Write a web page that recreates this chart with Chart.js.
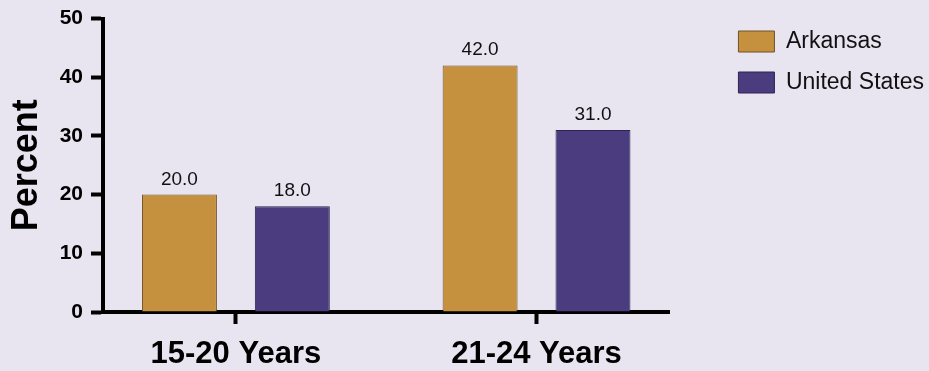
<!DOCTYPE html>
<html>
<head>
<meta charset="utf-8">
<script src="https://cdn.jsdelivr.net/npm/chart.js@4/dist/chart.umd.min.js"></script>
<style>
  html, body { margin: 0; padding: 0; background: #e8e5f1; }
  #wrap { width: 929px; height: 371px; }
</style>
</head>
<body>
<div id="wrap"><canvas id="chart" width="929" height="371"></canvas></div>
<script>
const categories = ['15-20 Years', '21-24 Years'];
const arkansas = [20.0, 42.0];
const unitedStates = [18.0, 31.0];
const yTicks = [0, 10, 20, 30, 40, 50];

const FONT = "'Liberation Sans', Arial, Helvetica, sans-serif";

renderChart();

function toPoints(values) {
    return values.map((v, i) => ({ x: i + 1, y: v }));
}

function renderChart() {
    // value labels above each bar
    const barValues = {
        id: 'barValues',
        afterDatasetsDraw(chart) {
            const ctx = chart.ctx;
            ctx.save();
            ctx.font = '19px ' + FONT;
            ctx.fillStyle = '#111';
            ctx.textAlign = 'center';
            ctx.textBaseline = 'alphabetic';
            chart.data.datasets.forEach((ds, di) => {
                chart.getDatasetMeta(di).data.forEach((bar, i) => {
                    ctx.fillText(ds.data[i].y.toFixed(1), bar.x, bar.y - 10);
                });
            });
            ctx.restore();
        }
    };

    const data = {
        datasets: [
            {
                label: 'Arkansas',
                data: toPoints(arkansas),
                backgroundColor: '#c6913f',
                borderColor: '#6e5028',
                borderWidth: 1,
            },
            {
                label: 'United States',
                data: toPoints(unitedStates),
                backgroundColor: '#4a3c7e',
                borderColor: '#2c2550',
                borderWidth: 1,
            }
        ]
    };

    const config = {
        type: 'bar',
        data: data,
        options: {
            responsive: false,
            animation: false,
            layout: { padding: { top: 12, right: -5, bottom: -14, left: 0 } },
            datasets: {
                bar: { categoryPercentage: 0.751, barPercentage: 0.664 }
            },
            plugins: {
                tooltip: { enabled: false },
                legend: {
                    position: 'right',
                    align: 'start',
                    maxWidth: 300,
                    labels: {
                        boxWidth: 36,
                        boxHeight: 21,
                        padding: 18,
                        color: '#111',
                        font: { family: FONT, size: 23 }
                    }
                }
            },
            scales: {
                x: {
                    type: 'linear',
                    min: 0.558,
                    max: 2.442,
                    offset: false,
                    afterBuildTicks: axis => {
                        axis.ticks = categories.map((c, i) => ({ value: i + 1 }));
                    },
                    grid: {
                        display: true,
                        offset: false,
                        drawOnChartArea: false,
                        drawTicks: true,
                        tickLength: 12,
                        tickWidth: 4,
                        tickColor: '#000'
                    },
                    border: { display: true, width: 4, color: '#000' },
                    ticks: {
                        padding: 15,
                        maxRotation: 0,
                        color: '#000',
                        font: { family: FONT, size: 31, weight: 'bold', lineHeight: 1 },
                        callback: v => categories[v - 1]
                    }
                },
                y: {
                    min: yTicks[0],
                    max: yTicks[yTicks.length - 1],
                    afterFit: axis => { axis.width = 103; },
                    grid: {
                        display: true,
                        drawOnChartArea: false,
                        drawTicks: true,
                        tickLength: 12,
                        tickWidth: 4,
                        tickColor: '#000'
                    },
                    border: { display: true, width: 4, color: '#000' },
                    ticks: {
                        stepSize: 10,
                        padding: 8,
                        color: '#000',
                        font: { family: FONT, size: 21, weight: 'bold', lineHeight: 1 }
                    },
                    title: {
                        display: true,
                        text: 'Percent',
                        color: '#000',
                        padding: { top: 9, bottom: 0 },
                        font: { family: FONT, size: 36, weight: 'bold', lineHeight: 1 }
                    }
                },
                // empty right-hand axis, only keeps the gap before the legend
                gap: {
                    type: 'linear',
                    position: 'right',
                    display: true,
                    afterFit: axis => { axis.width = 51; },
                    grid: { display: false },
                    border: { display: false },
                    ticks: { display: false }
                }
            }
        },
        plugins: [barValues]
    };

    return new Chart(document.getElementById('chart'), config);
}
</script>
</body>
</html>
